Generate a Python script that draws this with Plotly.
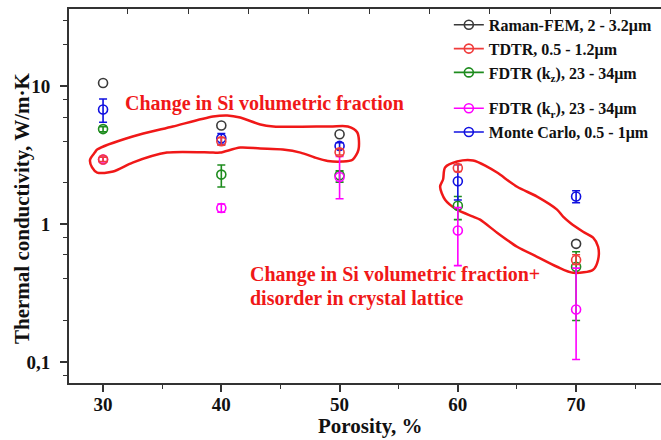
import numpy as np
import plotly.graph_objects as go

# ---------------- data ----------------
porosity_raman = [30, 40, 50, 70]
k_raman = [10.6, 5.2, 4.5, 0.72]

porosity_tdtr = [30, 40, 50, 60, 70]
k_tdtr = [2.95, 4.0, 3.33, 2.56, 0.55]
tdtr_err_plus = [0.12, 0.25, 0.2, 0.15, 0.05]
tdtr_err_minus = [0.1, 0.25, 0.15, 0.15, 0.04]

porosity_fdtr_z = [30, 40, 50, 60, 70]
k_fdtr_z = [4.9, 2.29, 2.27, 1.36, 0.49]
fdtr_z_err_plus = [0.2, 0.4, 0.17, 0.23, 0.14]
fdtr_z_err_minus = [0.22, 0.43, 0.25, 0.28, 0.29]

porosity_fdtr_r = [30, 40, 50, 60, 70]
k_fdtr_r = [2.95, 1.31, 2.2, 0.90, 0.24]
fdtr_r_err_plus = [0.12, 0.09, 0.9, 0.42, 0.24]
fdtr_r_err_minus = [0.12, 0.09, 0.67, 0.40, 0.136]

porosity_mc = [30, 40, 50, 60, 70]
k_mc = [6.8, 4.2, 3.7, 2.05, 1.59]
mc_err_plus = [1.3, 0.35, 0.2, 0.65, 0.16]
mc_err_minus = [1.3, 0.4, 0.2, 0.55, 0.16]

# hand-drawn outlines (porosity, conductivity)
outline1_x = [29.5, 32.5, 35.9, 39.3, 40.5, 41.6, 43.3, 44.4, 49.2, 50.7, 51.5, 51.6,
              51.1, 50.2, 49.0, 47.9, 46.7, 45.2, 43.3, 41.6, 39.9, 39.3, 35.4, 32.5,
              30.85, 29.5, 29.07, 28.9, 29.3, 29.5]
outline1_y = [3.48, 4.33, 5.12, 6.05, 6.16, 5.95, 5.29, 5.12, 5.12, 5.12, 4.63, 3.48,
              2.94, 2.85, 2.88, 3.05, 3.31, 3.48, 3.54, 3.60, 3.31, 3.31, 3.31, 2.80,
              2.41, 2.37, 2.58, 2.94, 3.31, 3.48]
outline2_x = [58.5, 58.75, 58.92, 59.94, 61.29, 62.47, 63.32, 65.01, 66.70, 68.39, 68.90,
              69.49, 70.59, 71.44, 71.86, 71.86, 71.44, 69.75, 68.39, 66.70, 65.01,
              63.32, 61.88, 61.29, 59.94, 58.92, 58.5]
outline2_y = [1.87, 2.11, 2.58, 2.85, 2.90, 2.62, 2.37, 1.87, 1.585, 1.275, 1.134,
              1.025, 0.882, 0.798, 0.686, 0.552, 0.467, 0.444, 0.491, 0.580, 0.686,
              0.867, 1.078, 1.134, 1.275, 1.507, 1.87]

legend_names = ["Raman-FEM, 2 - 3.2μm", "TDTR, 0.5 - 1.2μm",
                "FDTR (k<sub>z</sub>), 23 - 34μm", "FDTR (k<sub>r</sub>), 23 - 34μm",
                "Monte Carlo, 0.5 - 1μm"]
y_tickvals = [0.1, 1, 10]
y_ticktext = ["0,1", "1", "10"]
x_tickvals = [30, 40, 50, 60, 70]

# ---------------- styling ----------------
FONT = "Liberation Serif"
C_BLACK = "#3a3a3a"
C_RED = "#f03c3c"
C_GREEN = "#1e8c1e"
C_MAG = "#ff00ff"
C_BLUE = "#1010e0"
AXC = "#333333"
TXT = "#111111"
RED_TXT = "#f01818"

fig = go.Figure()

# outlines
for ox, oy in ((outline1_x, outline1_y), (outline2_x, outline2_y)):
    fig.add_trace(go.Scatter(x=ox, y=oy, mode="lines",
                             line=dict(color=RED_TXT, width=2.5, shape="spline", smoothing=0.8),
                             showlegend=False, hoverinfo="skip"))


def series(x, y, color, ep=None, em=None):
    err = None
    if ep is not None:
        err = dict(type="data", symmetric=False, array=ep, arrayminus=em,
                   color=color, thickness=1.6, width=4)
    return go.Scatter(x=x, y=y, mode="markers", showlegend=False,
                      marker=dict(symbol="circle-open", size=9, color=color,
                                  line=dict(width=1.6, color=color)),
                      error_y=err)


fig.add_trace(series(porosity_raman, k_raman, C_BLACK))
fig.add_trace(series(porosity_fdtr_z, k_fdtr_z, C_GREEN, fdtr_z_err_plus, fdtr_z_err_minus))
fig.add_trace(series(porosity_fdtr_r, k_fdtr_r, C_MAG, fdtr_r_err_plus, fdtr_r_err_minus))
fig.add_trace(series(porosity_mc, k_mc, C_BLUE, mc_err_plus, mc_err_minus))
fig.add_trace(series(porosity_tdtr, k_tdtr, C_RED, tdtr_err_plus, tdtr_err_minus))

# legend entries (line + open circle samples)
leg_colors = [C_BLACK, C_RED, C_GREEN, C_MAG, C_BLUE]
leg_groups = ["g1", "g1", "g1", "g2", "g2"]
for i, (nm, c, g) in enumerate(zip(legend_names, leg_colors, leg_groups)):
    fig.add_trace(go.Scatter(x=[None], y=[None], name=nm, mode="lines+markers",
                             legendgroup=g, legendrank=i,
                             line=dict(color=c, width=1.6),
                             marker=dict(symbol="circle-open", size=9, color=c,
                                         line=dict(width=1.6, color=c))))

# dummy trace for top axis
fig.add_trace(go.Scatter(x=[None], y=[None], xaxis="x2", showlegend=False, hoverinfo="skip"))

# plot area extends past the right edge of the window (no right frame in the original)
xr = [27.12, 77.94]
fig.update_layout(
    width=670, height=440,
    margin=dict(l=69, r=0, t=9, b=57),
    paper_bgcolor="white", plot_bgcolor="white",
    font=dict(family=FONT, color=TXT),
    showlegend=True,
    legend=dict(x=0.632, y=1.003, xanchor="left", yanchor="top",
                font=dict(family=FONT, size=16, color=TXT, weight="bold"),
                bgcolor="rgba(0,0,0,0)", tracegroupgap=12, itemwidth=30,
                traceorder="grouped"),
    xaxis=dict(range=xr, showline=True, linecolor=AXC, linewidth=2, automargin=False,
               ticks="outside", ticklen=7, tickwidth=1.6, tickcolor=AXC,
               tickvals=x_tickvals, showgrid=False, zeroline=False,
               ticklabelstandoff=-4,
               tickfont=dict(family=FONT, size=19, color=TXT, weight="bold"),
               minor=dict(tickvals=[35, 45, 55, 65, 75], ticks="outside",
                          ticklen=4, tickwidth=1.4, tickcolor=AXC)),
    xaxis2=dict(range=xr, overlaying="x", side="top", anchor="y", automargin=False,
                showline=True, linecolor=AXC, linewidth=2,
                tickmode="linear", tick0=32.1, dtick=5.1,
                ticks="inside", ticklen=5, tickwidth=1.4, tickcolor=AXC,
                showticklabels=False, showgrid=False, zeroline=False),
    yaxis=dict(type="log", range=[np.log10(0.0703), np.log10(36.5)], automargin=False,
               showline=True, linecolor=AXC, linewidth=2,
               ticks="outside", ticklen=7, tickwidth=1.6, tickcolor=AXC,
               tickvals=y_tickvals, ticktext=y_ticktext, ticklabelstandoff=6,
               showgrid=False, zeroline=False,
               tickfont=dict(family=FONT, size=19, color=TXT, weight="bold"),
               minor=dict(tickvals=[0.08, 0.2, 0.4, 0.6, 0.8, 2, 4, 6, 8, 20, 30],
                          ticks="outside", ticklen=4, tickwidth=1.4, tickcolor=AXC)),
)

# axis titles
fig.add_annotation(x=0.501, y=-0.115, xref="paper", yref="paper", showarrow=False,
                   xanchor="center", yanchor="middle", text="<b>Porosity, %</b>",
                   font=dict(family=FONT, size=21, color=TXT))
fig.add_annotation(x=-0.0782, y=0.468, xref="paper", yref="paper", showarrow=False,
                   xanchor="center", yanchor="middle", textangle=-90,
                   text="<b>Thermal conductivity, W/m·K</b>",
                   font=dict(family=FONT, size=21, color=TXT))

# in-plot notes
fig.add_annotation(x=0.326, y=0.746, xref="paper", yref="paper", showarrow=False,
                   xanchor="center", yanchor="middle",
                   text="<b>Change in Si volumetric fraction</b>",
                   font=dict(family=FONT, size=20, color=RED_TXT))
fig.add_annotation(x=0.298, y=0.289, xref="paper", yref="paper", showarrow=False,
                   xanchor="left", yanchor="middle",
                   text="<b>Change in Si volumetric fraction+</b>",
                   font=dict(family=FONT, size=20, color=RED_TXT))
fig.add_annotation(x=0.298, y=0.227, xref="paper", yref="paper", showarrow=False,
                   xanchor="left", yanchor="middle",
                   text="<b>disorder in crystal lattice</b>",
                   font=dict(family=FONT, size=20, color=RED_TXT))

fig.write_html("out.html", config={"displayModeBar": False},
               post_script="document.body.style.margin='0';document.body.style.padding='0';"
                           "document.documentElement.style.overflow='hidden';"
                           "document.body.style.overflow='hidden';")
